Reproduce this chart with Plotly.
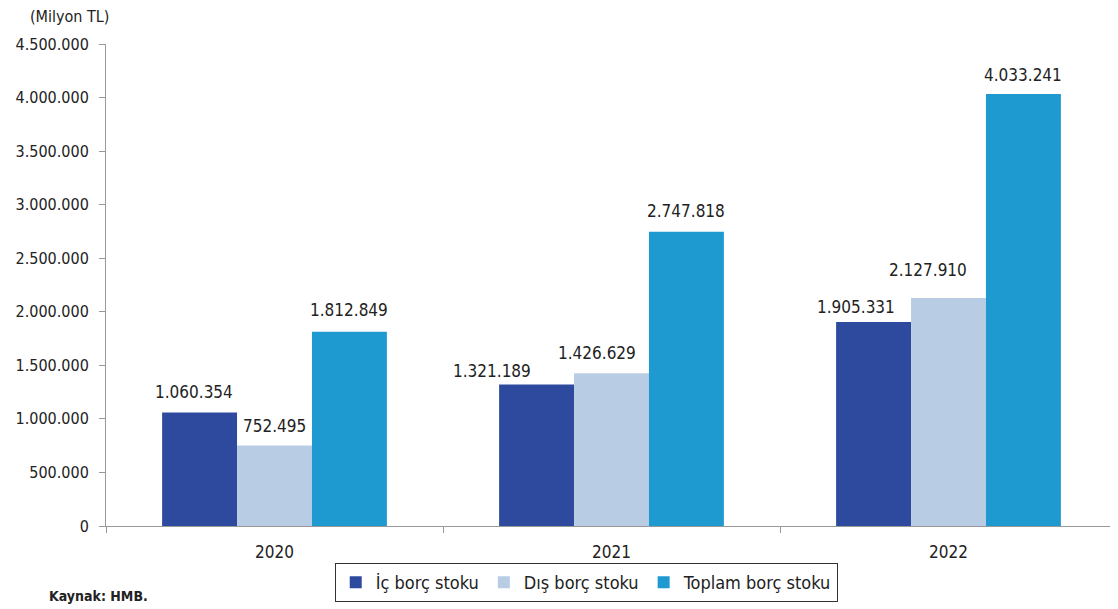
import plotly.graph_objects as go

years = ["2020", "2021", "2022"]
ic_borc = [1060354, 1321189, 1905331]
dis_borc = [752495, 1426629, 2127910]
toplam_borc = [1812849, 2747818, 4033241]
tick_vals = [0, 500000, 1000000, 1500000, 2000000, 2500000, 3000000, 3500000, 4000000, 4500000]

FONT = "DejaVu Sans Condensed, Liberation Sans Narrow, sans-serif"
TEXT = "#222222"

# layout geometry (pixels)
FIG_W, FIG_H = 1110, 601
M_L, M_R, M_T, M_B = 98, 1, 36, 83
BARGAP = 0.333
plot_w = FIG_W - M_L - M_R
bar_px = plot_w / len(years) * (1 - BARGAP) / 3

# label nudges (style only): per series, per year -> (dx, dy) in px
label_nudge = [
    [(-6, 20), (-45, 13), (-18, 15)],
    [(0, 19), (-15, 20), (-21, 28)],
    [(0, 22), (0, 21), (0, 19)],
]

fig = go.Figure()
series = [
    ("İç borç stoku", ic_borc, "#2E4A9E"),
    ("Dış borç stoku", dis_borc, "#B8CCE4"),
    ("Toplam borç stoku", toplam_borc, "#1E9AD0"),
]
annotations = []
for si, (name, vals, col) in enumerate(series):
    fig.add_trace(go.Bar(
        x=years, y=vals, name=name, marker_color=col, marker_line_width=0,
    ))
    for yi, v in enumerate(vals):
        dx, dy = label_nudge[si][yi]
        annotations.append(dict(
            x=yi, y=v, xref="x", yref="y", text=f"{v:,}".replace(",", "."),
            showarrow=False, xanchor="center", yanchor="middle",
            xshift=float((si - 1) * bar_px + dx), yshift=dy,
            font=dict(family=FONT, size=17, color=TEXT),
        ))

annotations += [
    dict(text="(Milyon TL)", xref="paper", yref="paper", x=-0.077, y=1.0,
         xanchor="left", yanchor="middle", yshift=28, showarrow=False,
         font=dict(family=FONT, size=16, color=TEXT)),
    dict(text="<b>Kaynak: HMB.</b>", xref="paper", yref="paper", x=-0.0584, y=-0.145,
         xanchor="left", yanchor="middle", showarrow=False,
         font=dict(family=FONT, size=14, color=TEXT)),
]

fig.update_layout(
    width=FIG_W, height=FIG_H,
    margin=dict(l=M_L, r=M_R, t=M_T, b=M_B, autoexpand=False),
    paper_bgcolor="white", plot_bgcolor="white",
    separators=",.",
    barmode="group", bargap=BARGAP, bargroupgap=0,
    font=dict(family=FONT, size=17, color=TEXT),
    showlegend=True,
    legend=dict(
        orientation="h", x=0.475, xanchor="center", y=-0.077, yanchor="top",
        bordercolor="#333333", borderwidth=1, font=dict(family=FONT, size=18),
        itemwidth=30, tracegroupgap=0,
    ),
    xaxis=dict(
        type="category",
        showline=True, linecolor="#999999", linewidth=1,
        ticks="outside", tickson="boundaries", ticklen=6, tickcolor="#999999",
        tickfont=dict(family=FONT, size=17, color=TEXT), ticklabelstandoff=11,
        showgrid=False,
    ),
    yaxis=dict(
        range=[0, 4500000], tickvals=tick_vals, tickformat=",.0f",
        showline=True, linecolor="#999999", linewidth=1,
        ticks="outside", ticklen=6, tickcolor="#999999",
        tickfont=dict(family=FONT, size=16, color=TEXT), ticklabelstandoff=7,
        showgrid=False, zeroline=False,
    ),
    annotations=annotations,
)

fig.write_html("out.html")
